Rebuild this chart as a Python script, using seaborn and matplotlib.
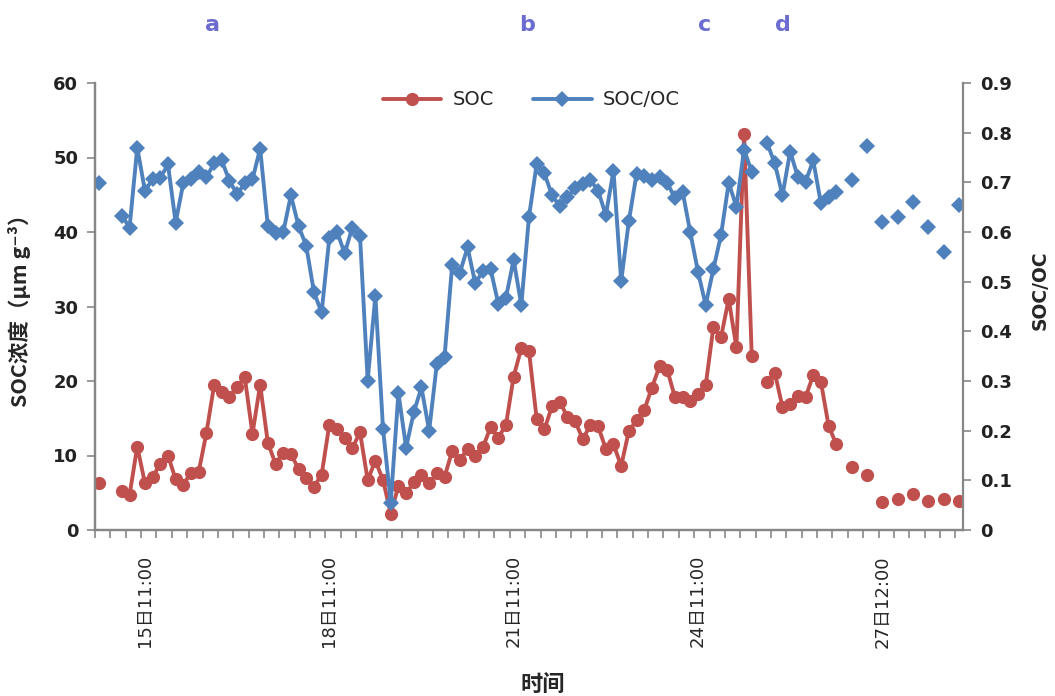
import numpy as np
import pandas as pd
import matplotlib
matplotlib.use("Agg")
import matplotlib.pyplot as plt
import seaborn as sns
from matplotlib.lines import Line2D
from matplotlib.ticker import FuncFormatter

nan = np.nan

# ---------------- data (3-hourly categories) ----------------
soc = [6.3, nan, nan, 5.2, 4.7, 11.2, 6.3, 7.1, 8.9, 10.0,
       6.8, 6.1, 7.7, 7.8, 13.0, 19.4, 18.5, 17.9, 19.2, 20.5,
       12.9, 19.5, 11.7, 8.9, 10.4, 10.2, 8.2, 7.0, 5.8, 7.4,
       14.1, 13.6, 12.3, 11.0, 13.1, 6.7, 9.3, 6.7, 2.2, 5.9,
       4.9, 6.4, 7.4, 6.3, 7.6, 7.1, 10.6, 9.4, 10.9, 10.0,
       11.1, 13.8, 12.4, 14.1, 20.6, 24.4, 24.0, 14.9, 13.5, 16.6,
       17.2, 15.2, 14.6, 12.2, 14.1, 13.9, 10.9, 11.5, 8.6, 13.3,
       14.7, 16.1, 19.1, 22.0, 21.5, 17.8, 17.8, 17.3, 18.3, 19.4,
       27.2, 25.9, 31.0, 24.5, 53.2, 23.3, nan, 19.8, 21.1, 16.5,
       16.9, 18.0, 17.8, 20.8, 19.9, 14.0, 11.5, nan, 8.5, nan,
       7.4, nan, 3.7, nan, 4.1, nan, 4.8, nan, 3.9, nan,
       4.2, nan, 3.9]

soc_oc = [0.698, nan, nan, 0.633, 0.609, 0.770, 0.683, 0.706, 0.709, 0.736,
          0.619, 0.699, 0.707, 0.721, 0.710, 0.738, 0.744, 0.703, 0.676, 0.698,
          0.706, 0.768, 0.612, 0.597, 0.599, 0.674, 0.612, 0.572, 0.479, 0.438,
          0.587, 0.601, 0.557, 0.609, 0.592, 0.301, 0.471, 0.203, 0.055, 0.276,
          0.166, 0.237, 0.287, 0.200, 0.334, 0.348, 0.534, 0.518, 0.569, 0.497,
          0.521, 0.525, 0.456, 0.468, 0.544, 0.453, 0.631, 0.737, 0.718, 0.674,
          0.652, 0.670, 0.688, 0.697, 0.705, 0.683, 0.634, 0.723, 0.501, 0.622,
          0.717, 0.713, 0.705, 0.711, 0.698, 0.669, 0.681, 0.599, 0.520, 0.453,
          0.525, 0.594, 0.699, 0.651, 0.766, 0.721, nan, 0.779, 0.738, 0.674,
          0.762, 0.711, 0.701, 0.744, 0.658, 0.671, 0.681, nan, 0.705, nan,
          0.773, nan, 0.621, nan, 0.630, nan, 0.660, nan, 0.611, nan,
          0.559, nan, 0.654]

tick_label_idx = [6, 30, 54, 78, 102]
tick_labels = ["15日11:00", "18日11:00", "21日11:00", "24日11:00", "27日12:00"]
panel_letters = ["a", "b", "c", "d"]
panel_letter_x = [212, 527, 705, 783]   # pixel columns in the figure

# ---------------- style ----------------
sns.set_theme(style="white")
plt.rcParams["font.family"] = ["DejaVu Sans", "Noto Sans CJK SC"]

RED = "#C0504D"
BLUE = "#4F81BD"
GRAY = "#878787"
W, H = 1055, 696

n = len(soc)
df = pd.DataFrame({"idx": np.arange(n), "soc": soc, "ratio": soc_oc})
df["seg_soc"] = df["soc"].isna().cumsum()
df["seg_ratio"] = df["ratio"].isna().cumsum()

fig = plt.figure(figsize=(W / 100, H / 100), dpi=100)
ax = fig.add_axes([95 / W, 1 - 530 / H, (963 - 95) / W, (530 - 83) / H])
ax2 = ax.twinx()

sns.lineplot(data=df.dropna(subset=["soc"]), x="idx", y="soc", units="seg_soc",
             estimator=None, color=RED, linewidth=2.8, marker="o",
             markersize=9.5, markeredgecolor=RED, markeredgewidth=0,
             ax=ax, legend=False)
sns.lineplot(data=df.dropna(subset=["ratio"]), x="idx", y="ratio", units="seg_ratio",
             estimator=None, color=BLUE, linewidth=2.8, marker="D",
             markersize=8.5, markeredgecolor=BLUE, markeredgewidth=0,
             ax=ax2, legend=False)

# axes ranges
ax.set_xlim(-0.5, n - 0.5)
ax.set_ylim(0, 60)
ax2.set_ylim(0, 0.9)
ax.set_yticks(np.arange(0, 61, 10))
ax2.set_yticks(np.arange(0, 0.91, 0.1))
ax2.yaxis.set_major_formatter(FuncFormatter(lambda v, p: "0" if abs(v) < 1e-9 else f"{v:.1f}"))

# x ticks
ax.set_xticks(tick_label_idx)
ax.set_xticklabels(tick_labels, rotation=90, fontsize=13,
                   family=["DejaVu Sans", "Noto Sans CJK SC"])
ax.set_xticks(np.arange(-0.5, n, 2), minor=True)
ax.tick_params(axis="x", which="major", length=0, pad=18, bottom=True)
ax.tick_params(axis="x", which="minor", length=6, width=1.2, color=GRAY,
               direction="out", bottom=True)

# y ticks
ax.tick_params(axis="y", which="major", left=True, length=6, width=1.2,
               color=GRAY, direction="out", pad=6, labelsize=13)
ax2.tick_params(axis="y", which="major", right=True, length=6, width=1.2,
                color=GRAY, direction="out", pad=6, labelsize=13)
for lab in ax.get_yticklabels() + ax2.get_yticklabels():
    lab.set_fontweight("bold")
    lab.set_color("#222222")

for a in (ax, ax2):
    a.grid(False)
    a.spines["top"].set_visible(False)
    for s in ("left", "right", "bottom"):
        a.spines[s].set_color(GRAY)
        a.spines[s].set_linewidth(1.6)
ax.spines["right"].set_visible(False)

# labels
ax.set_xlabel("")
ax2.set_xlabel("")
ax.set_ylabel("")
ax2.set_ylabel("")
fig.text(20 / W, 1 - 305 / H, "SOC浓度（μm g⁻³）", rotation=90, ha="center", va="center",
         fontsize=15.5, fontweight="bold", family=["Noto Sans CJK SC", "DejaVu Sans"])
fig.text(1040 / W, 1 - 290 / H, "SOC/OC", rotation=90, ha="center", va="center",
         fontsize=13.5, fontweight="bold", family=["DejaVu Sans"])
fig.text(543 / W, 1 - 684 / H, "时间", ha="center", va="center",
         fontsize=16, fontweight="bold", family=["Noto Sans CJK SC"])

for letter, px in zip(panel_letters, panel_letter_x):
    fig.text(px / W, 1 - 25 / H, letter, ha="center", va="center",
             fontsize=16, fontweight="bold", color="#6B6BD0")

# legend
handles = [Line2D([0], [0], color=RED, lw=2.8, marker="o", ms=9.5, mew=0),
           Line2D([0], [0], color=BLUE, lw=2.8, marker="D", ms=8.5, mew=0)]
leg = ax2.legend(handles, ["SOC", "SOC/OC"], loc="center", ncol=2,
                 bbox_to_anchor=(0.503, 0.962), frameon=False, fontsize=14,
                 handlelength=3.0, columnspacing=2.0, handletextpad=0.6)

fig.savefig("out.png", dpi=100)
